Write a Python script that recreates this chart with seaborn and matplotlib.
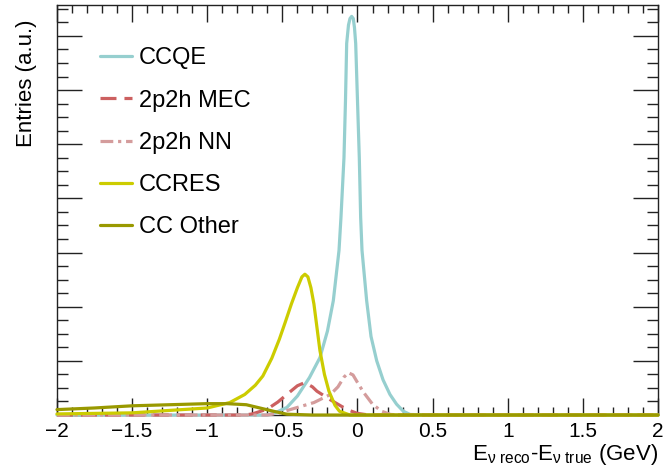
import numpy as np
import pandas as pd
import matplotlib
matplotlib.use("Agg")
import matplotlib.pyplot as plt
from matplotlib.ticker import MultipleLocator, NullFormatter
import seaborn as sns

# curves (x in GeV, y in arbitrary units)
ccqe_x = [-2.0, -0.60, -0.55, -0.47, -0.40, -0.32, -0.25, -0.20, -0.161, -0.123, -0.110, -0.090,
          -0.080, -0.072, -0.060, -0.050, -0.039, -0.028, -0.020, -0.012, 0.0, 0.012, 0.021,
          0.030, 0.061, 0.09, 0.128, 0.17, 0.216, 0.26, 0.305, 0.35, 0.5, 2.0]
ccqe_y = [0.0, 0.0, 0.04, 0.14, 0.35, 0.69, 1.06, 1.55, 2.11, 3.04, 3.65, 4.75,
          5.8, 6.86, 7.2, 7.32, 7.36, 7.32, 7.15, 6.86, 5.8, 4.75, 3.65,
          3.04, 2.11, 1.45, 1.0, 0.65, 0.38, 0.2, 0.07, 0.01, 0.0, 0.0]

mec_x = [-2.0, -0.75, -0.70, -0.60, -0.53, -0.47, -0.40, -0.35, -0.30, -0.27, -0.18,
         -0.10, -0.05, 0.0, 0.05, 0.1, 2.0]
mec_y = [0.0, 0.0, 0.02, 0.11, 0.24, 0.38, 0.54, 0.60, 0.52, 0.44, 0.28,
         0.15, 0.08, 0.03, 0.01, 0.0, 0.0]

nn_x = [-2.0, -0.6, -0.52, -0.40, -0.29, -0.18, -0.13, -0.09, -0.06, -0.03, 0.0, 0.04,
        0.10, 0.16, 0.22, 0.3, 2.0]
nn_y = [0.0, 0.0, 0.04, 0.14, 0.23, 0.38, 0.52, 0.70, 0.78, 0.74, 0.60, 0.42,
        0.20, 0.07, 0.01, 0.0, 0.0]

res_x = [-2.0, -1.5, -1.0, -0.85, -0.75, -0.68, -0.63, -0.57, -0.52, -0.48, -0.44, -0.40,
         -0.37, -0.35, -0.33, -0.31, -0.29, -0.27, -0.25, -0.22, -0.19, -0.15, -0.12, -0.05, 2.0]
res_y = [0.02, 0.04, 0.13, 0.23, 0.38, 0.55, 0.72, 1.05, 1.40, 1.72, 2.05, 2.35,
         2.55, 2.60, 2.55, 2.35, 2.05, 1.62, 1.19, 0.75, 0.44, 0.18, 0.07, 0.0, 0.0]

oth_x = [-2.0, -1.75, -1.5, -1.25, -1.0, -0.87, -0.74, -0.65, -0.56, -0.47, -0.3, 2.0]
oth_y = [0.10, 0.13, 0.17, 0.19, 0.21, 0.21, 0.19, 0.13, 0.07, 0.015, 0.0, 0.0]

labels = ["CCQE", "2p2h MEC", "2p2h NN", "CCRES", "CC Other"]
colors = ["#96cfcf", "#cc6060", "#d49c9c", "#cccc00", "#999900"]
styles = ["-", (0, (5, 2.5)), (0, (4, 1.5, 1, 1.5)), "-", "-"]
series = [(ccqe_x, ccqe_y), (mec_x, mec_y), (nn_x, nn_y), (res_x, res_y), (oth_x, oth_y)]

sns.set_style("ticks")
plt.rcParams["font.family"] = ["Liberation Sans", "DejaVu Sans"]
plt.rcParams["mathtext.fontset"] = "custom"
plt.rcParams["mathtext.rm"] = "Liberation Sans"
plt.rcParams["mathtext.it"] = "Liberation Sans:italic"
plt.rcParams["text.color"] = "black"
plt.rcParams["axes.labelcolor"] = "black"
plt.rcParams["xtick.color"] = "black"
plt.rcParams["ytick.color"] = "black"

fig = plt.figure(figsize=(6.64, 4.69), dpi=100)
ax = fig.add_axes([0.0858, 0.1151, 0.9052, 0.8742])

for (xs, ys), lab, col, ls in zip(series, labels, colors, styles):
    df = pd.DataFrame({"x": xs, "y": ys})
    sns.lineplot(data=df, x="x", y="y", ax=ax, color=col, linestyle=ls,
                 linewidth=2.3, label=lab, sort=False, clip_on=False, zorder=3)

ax.set_xlim(-2, 2)
ax.set_ylim(0, 7.57)
ax.xaxis.set_minor_locator(MultipleLocator(0.1))
ax.yaxis.set_major_locator(MultipleLocator(1))
ax.yaxis.set_minor_locator(MultipleLocator(0.25))
ax.yaxis.set_major_formatter(NullFormatter())
ax.set_xticks([-2, -1.5, -1, -0.5, 0, 0.5, 1, 1.5, 2])
ax.set_xticklabels(["\u22122", "\u22121.5", "\u22121", "\u22120.5", "0", "0.5", "1", "1.5", "2"])

ax.tick_params(which="both", direction="in", top=True, right=True, labelsize=15, width=1,
               color="#222222", pad=5)
ax.tick_params(axis="x", which="major", length=12)
ax.tick_params(axis="x", which="minor", length=6)
ax.tick_params(axis="y", which="major", length=18)
ax.tick_params(axis="y", which="minor", length=8)
for sp in ax.spines.values():
    sp.set_linewidth(1)
    sp.set_color("#222222")

ax.set_xlabel(r"$\mathrm{E_{\nu\ reco}}$-$\mathrm{E_{\nu\ true}}$ (GeV)", fontsize=16,
              ha="right")
ax.xaxis.set_label_coords(1.0, -0.065)
ax.set_ylabel("Entries (a.u.)", fontsize=16, loc="top")
ax.yaxis.set_label_coords(-0.034, 0.965)

leg = ax.legend(loc="upper left", bbox_to_anchor=(0.0715, 0.897), frameon=False, fontsize=17,
                handlelength=1.36, handletextpad=0.3, labelspacing=0.86, borderpad=0,
                borderaxespad=0)

fig.savefig("out.png", dpi=100)
